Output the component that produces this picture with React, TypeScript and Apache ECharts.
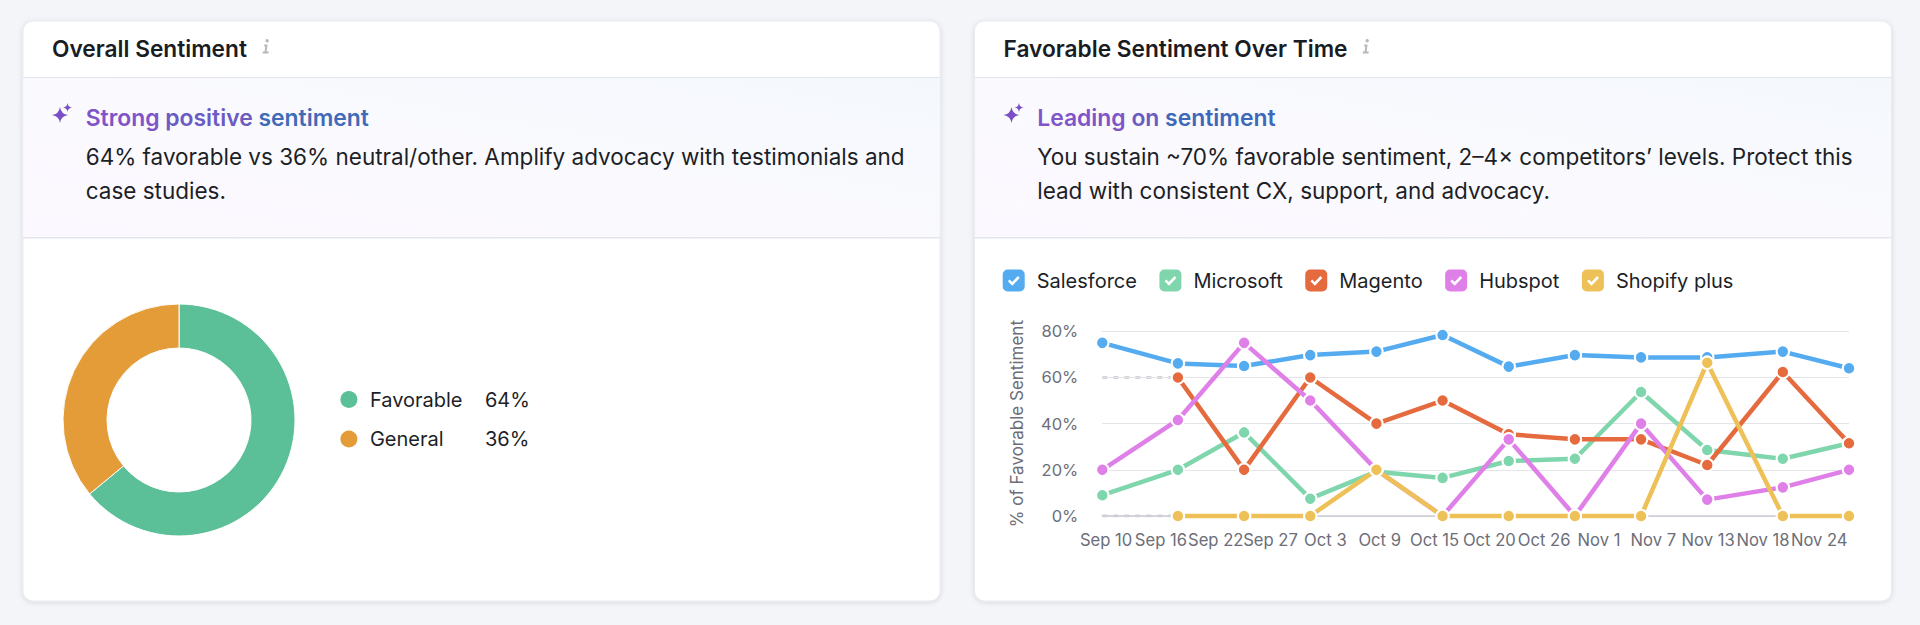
import React, { useEffect, useRef } from "react";
import * as echarts from "echarts";

const FONT = "Inter";

const seriesNames = ["Salesforce", "Microsoft", "Magento", "Hubspot", "Shopify plus"];
const seriesColors = ["#55ABF0", "#7FD6AD", "#E56B3F", "#DF7FE8", "#EEC158"];
const pointDays = [0, 8, 15, 22, 29, 36, 43, 50, 57, 64, 72, 79];
const salesforce = [75, 66.1, 65, 69.7, 71.2, 78.4, 64.7, 69.7, 68.7, 68.7, 71.2, 64];
const microsoft = [9, 20, 36.2, 7.5, 19.2, 16.5, 23.8, 24.8, 53.7, 28.6, 24.8, 31.5];
const magento = [null, 60, 20, 60, 40, 50, 35.4, 33.2, 33.2, 22.1, 62.4, 31.5];
const hubspot = [20, 41.6, 75, 50, 20, 0, 33.2, 0, 40, 7.1, 12.4, 20];
const shopify = [null, 0, 0, 0, 20, 0, 0, 0, 0, 66.4, 0, 0];
const tickDays = [0.4, 6.2, 12, 17.8, 23.6, 29.35, 35.15, 40.95, 46.75, 52.55, 58.3, 64.1, 69.9, 75.85];
const tickLabels = ["Sep 10", "Sep 16", "Sep 22", "Sep 27", "Oct 3", "Oct 9", "Oct 15", "Oct 20", "Oct 26", "Nov 1", "Nov 7", "Nov 13", "Nov 18", "Nov 24"];
const sentimentNames = ["Favorable", "General"];
const sentimentValues = [64, 36];
const sentimentColors = ["#5BBF98", "#E39C37"];

const sparkleD = "M7.4 4 Q8.4 11 15.4 12 Q8.4 13 7.4 20 Q6.4 13 -0.6 12 Q6.4 11 7.4 4Z M14.9 0 Q15.3 4 19.4 4.5 Q15.3 5 14.9 9 Q14.5 5 10.4 4.5 Q14.5 4 14.9 0Z";
const infoD = "M5.2 0 A1.7 1.7 0 1 1 5.1 3.4 A1.7 1.7 0 1 1 5.2 0Z M2.4 5.4 H5.6 L4.6 12.4 H6.8 L6.5 14.6 H0.6 L0.9 12.4 H2.6 L3.3 7.4 H2.1Z";
echarts.graphic.registerShape("sparkle", echarts.graphic.extendPath(sparkleD, {}));
echarts.graphic.registerShape("infoGlyph", echarts.graphic.extendPath(infoD, {}));

const checkIcon =
  "path://M5 0 H17 A5 5 0 0 1 22 5 V17 A5 5 0 0 1 17 22 H5 A5 5 0 0 1 0 17 V5 A5 5 0 0 1 5 0Z M5.2 11.8 L9.6 16.2 L17 8.4 L15.2 6.6 L9.5 12.6 L7 10Z";

const HEAD_FONT = `600 22.9px ${FONT}`;

const cardGraphics = (x: number, title: string, infoX: number, words: string[], wordColors: string[], lines: string[]) => {
  const w = 917;
  const textX = x + 62.7;
  const rich: Record<string, object> = {};
  words.forEach((_, i) => {
    rich["w" + i] = { fill: wordColors[i], font: HEAD_FONT };
  });
  return [
    {
      type: "rect",
      shape: { x, y: 21, width: w, height: 580, r: 10 },
      style: { fill: "#fff", stroke: "#e9ebf0", lineWidth: 1, shadowBlur: 5, shadowColor: "rgba(20,25,60,0.12)", shadowOffsetY: 1 },
    },
    {
      type: "rect",
      shape: { x: x + 0.5, y: 77, width: w - 1, height: 160 },
      style: {
        fill: new echarts.graphic.LinearGradient(0, 1, 1, 0, [
          { offset: 0, color: "#FCF8FF" },
          { offset: 0.5, color: "#FAFAFE" },
          { offset: 1, color: "#F4F8FD" },
        ]),
      },
    },
    { type: "line", shape: { x1: x, y1: 77.5, x2: x + w, y2: 77.5 }, style: { stroke: "#E3E5EE", lineWidth: 1 } },
    { type: "line", shape: { x1: x, y1: 237.7, x2: x + w, y2: 237.7 }, style: { stroke: "#E3E5EE", lineWidth: 1.5 } },
    {
      type: "text", x: x + 29, y: 48.5,
      style: { text: title, font: `600 22.7px ${FONT}`, fill: "#1A1C24", verticalAlign: "middle", align: "left" },
    },
    { type: "infoGlyph", x: infoX, y: 39, style: { fill: "#B6B8BE" } },
    { type: "sparkle", x: x + 29.6, y: 103, style: { fill: "#7A4FC6" } },
    {
      type: "text", x: textX, y: 118,
      style: {
        text: words.map((word, i) => `{w${i}|${word}}`).join(" "),
        font: HEAD_FONT, rich, fill: wordColors[0], verticalAlign: "middle", align: "left",
      },
    },
    ...lines.map((line, i) => ({
      type: "text", x: textX, y: 156.5 + i * 34,
      style: { text: line, font: `400 22.5px ${FONT}`, fill: "#1D1F27", verticalAlign: "middle", align: "left" },
    })),
  ];
};

export default function App() {
  const ref = useRef<HTMLDivElement>(null);
  useEffect(() => {
    const chart = echarts.init(ref.current!, undefined, { renderer: "svg" });
    const lineSeriesData = [salesforce, microsoft, magento, hubspot, shopify];
    const gapSeries = lineSeriesData
      .filter((v) => v[0] === null)
      .map((v) => {
        const first = v.findIndex((n) => n !== null);
        return {
          type: "line",
          name: "gap",
          silent: true,
          symbol: "none",
          z: 0.5,
          lineStyle: { color: "#D2D3D6", width: 3, type: [5, 6] },
          data: [[pointDays[0], v[first]], [pointDays[first], v[first]]],
        };
      });
    chart.setOption({
      animation: false,
      backgroundColor: "#F3F5F9",
      textStyle: { fontFamily: FONT },
      graphic: [
        ...cardGraphics(23, "Overall Sentiment", 262, ["Strong", "positive", "sentiment"], ["#8054C8", "#6A5CC2", "#3F6BB9"],
          ["64% favorable vs 36% neutral/other. Amplify advocacy with testimonials and", "case studies."]),
        ...cardGraphics(974.5, "Favorable Sentiment Over Time", 1362, ["Leading", "on", "sentiment"], ["#7F55C8", "#6A5CC2", "#4068BA"],
          ["You sustain ~70% favorable sentiment, 2–4× competitors’ levels. Protect this", "lead with consistent CX, support, and advocacy."]),
      ],
      legend: [
        {
          left: 1002.7, top: 269.5, padding: 0, itemWidth: 22, itemHeight: 22, itemGap: 22.5,
          icon: checkIcon, selectedMode: false, data: seriesNames,
          itemStyle: { borderWidth: 0 },
          textStyle: { fontFamily: FONT, fontSize: 20, color: "#1D1F27", padding: [0, 0, 0, 7] },
        },
        {
          left: 340.4, top: 389.5, padding: 0, orient: "vertical", itemWidth: 17, itemHeight: 17, itemGap: 19.5,
          icon: "circle", selectedMode: false, data: sentimentNames,
          itemStyle: { borderWidth: 0 },
          formatter: (name: string) => `{n|${name}}{v|${sentimentValues[sentimentNames.indexOf(name)]}%}`,
          textStyle: {
            fontFamily: FONT, fontSize: 20, color: "#1D1F27", padding: [0, 0, 0, 7.5],
            rich: {
              n: { width: 115, fontFamily: FONT, fontSize: 20, color: "#1D1F27", lineHeight: 17 },
              v: { fontFamily: FONT, fontSize: 20, color: "#1D1F27", lineHeight: 17 },
            },
          },
        },
      ],
      grid: { left: 1102.3, right: 71, top: 331.3, bottom: 109 },
      xAxis: {
        type: "value", min: 0, max: 79, z: 1,
        splitLine: { show: false },
        axisTick: { show: false },
        axisLine: { show: true, lineStyle: { color: "#C9CBD2", width: 1.5 } },
        axisLabel: {
          customValues: tickDays,
          formatter: (v: number) => tickLabels[tickDays.indexOf(v)],
          hideOverlap: false, showMinLabel: true, showMaxLabel: true, margin: 15,
          fontFamily: FONT, fontSize: 16.6, color: "#6C6E79",
        },
      },
      yAxis: {
        type: "value", min: 0, max: 80, interval: 20, z: 1,
        name: "% of Favorable Sentiment",
        nameLocation: "middle", nameRotate: 90, nameGap: 77,
        nameTextStyle: { fontFamily: FONT, fontSize: 17, color: "#6C6E79" },
        axisLine: { show: false }, axisTick: { show: false },
        splitLine: { lineStyle: { color: "#E3E4E8", width: 1 } },
        axisLabel: { formatter: "{value}%", margin: 24, padding: [0, 0, 3, 0], fontFamily: FONT, fontSize: 16.5, color: "#6C6E79" },
      },
      series: [
        {
          type: "pie", name: "Sentiment", center: [179, 420], radius: [72, 116], startAngle: 90, clockwise: true,
          silent: true, label: { show: false }, labelLine: { show: false },
          itemStyle: { borderColor: "#fff", borderWidth: 1 },
          data: sentimentNames.map((name, i) => ({ name, value: sentimentValues[i], itemStyle: { color: sentimentColors[i] } })),
        },
        ...gapSeries,
        ...lineSeriesData.map((vals, i) => ({
          type: "line", name: seriesNames[i], z: 2 + i,
          symbol: "circle", symbolSize: 12.5, showAllSymbol: true, clip: false, silent: true,
          lineStyle: { color: seriesColors[i], width: 4.5 },
          itemStyle: { color: seriesColors[i], borderColor: "#fff", borderWidth: 2 },
          data: pointDays.map((d, k) => [d, vals[k]]),
        })),
      ],
    });
    return () => chart.dispose();
  }, []);
  return <div ref={ref} style={{ position: "absolute", left: 0, top: 0, width: 1920, height: 625 }} />;
}
